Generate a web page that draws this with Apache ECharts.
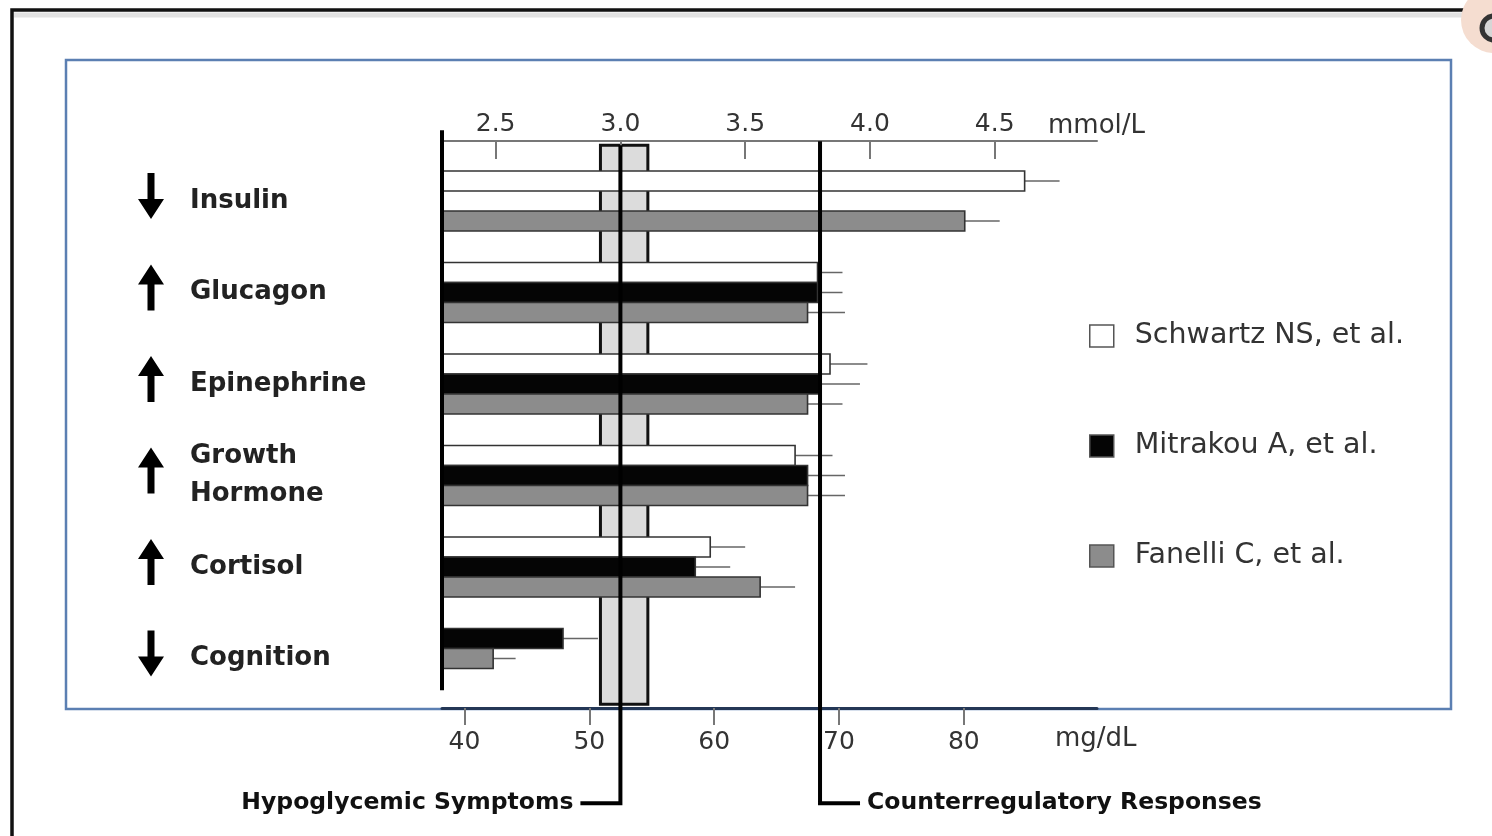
<!DOCTYPE html>
<html>
<head>
<meta charset="utf-8">
<script src="https://cdn.jsdelivr.net/npm/echarts@6/dist/echarts.min.js"></script>
<style>
html, body { margin: 0; padding: 0; background: #fff; }
#chart { width: 1492px; height: 836px; }
</style>
</head>
<body>
<div id="chart"></div>
<script>
// glucose level (mmol/L) at which each response starts, mean + SE
var categories = ['Insulin', 'Glucagon', 'Epinephrine', 'Growth\nHormone', 'Cortisol', 'Cognition'];
var directions = ['down', 'up', 'up', 'up', 'up', 'down'];
var studies = ['Schwartz NS, et al.', 'Mitrakou A, et al.', 'Fanelli C, et al.'];
var schwartz = [4.62, 3.79, 3.84, 3.70, 3.36, null];
var schwartzErr = [0.14, 0.10, 0.15, 0.15, 0.14, null];
var mitrakou = [null, 3.79, 3.80, 3.75, 3.30, 2.77];
var mitrakouErr = [null, 0.10, 0.16, 0.15, 0.14, 0.14];
var fanelli = [4.38, 3.75, 3.75, 3.75, 3.56, 2.49];
var fanelliErr = [0.14, 0.15, 0.14, 0.15, 0.14, 0.09];
var mmolTicks = [2.5, 3.0, 3.5, 4.0, 4.5];
var mgdlTicks = [40, 50, 60, 70, 80];
var symptomBand = [2.92, 3.11];
var thresholds = [3.0, 3.8];
var thresholdNames = ['Hypoglycemic Symptoms', 'Counterregulatory Responses'];

var FONT = '"DejaVu Sans", sans-serif';
var X_MIN = 2.285, X_MAX = 4.91;
var BAR = 20;
var values = [schwartz, mitrakou, fanelli];
var errors = [schwartzErr, mitrakouErr, fanelliErr];
var fills = ['#ffffff', '#050505', '#8c8c8c'];

var chart = echarts.init(document.getElementById('chart'));

// bars move up when the first studies have no value for that row
function leadingEmpty(i) {
    var n = 0;
    while (n < values.length && values[n][i] == null) n++;
    return n;
}

function barSeries(s) {
    var data = [];
    values[s].forEach(function (v, i) {
        if (v != null) data.push([i, v, errors[s][i]]);
    });
    return {
        name: studies[s],
        type: 'custom',
        z: 3,
        encode: { y: 0, x: [1] },
        itemStyle: { color: fills[s], borderColor: '#444' },
        data: data,
        renderItem: function (params, api) {
            var i = api.value(0), v = api.value(1), e = api.value(2);
            var slot = s - leadingEmpty(i);
            var base = api.coord([X_MIN, i]);
            var end = api.coord([v, i]);
            var tip = api.coord([v + e, i]);
            var cy = base[1] + (slot - 1) * BAR;
            return {
                type: 'group',
                children: [
                    { type: 'line', shape: { x1: end[0], y1: cy, x2: tip[0], y2: cy },
                      style: { stroke: '#666', lineWidth: 1.5 } },
                    { type: 'rect', shape: { x: base[0], y: cy - BAR / 2, width: end[0] - base[0], height: BAR },
                      style: { fill: fills[s], stroke: '#333', lineWidth: 1.6 } }
                ]
            };
        }
    };
}

var option = {
    animation: false,
    grid: { left: 442, right: 395, top: 155.25, bottom: 131.75 },
    legend: {
        orient: 'vertical',
        left: 1084,
        top: 316,
        icon: 'rect',
        itemWidth: 24,
        itemHeight: 22,
        itemGap: 80,
        selectedMode: false,
        textStyle: { fontFamily: FONT, fontSize: 28.5, color: '#333', lineHeight: 30, padding: [0, 0, 0, 16] },
        data: studies.map(function (n, s) {
            return { name: n, itemStyle: { color: fills[s], borderColor: '#555', borderWidth: 1.5 } };
        })
    },
    xAxis: [
        {
            type: 'value', position: 'top', offset: 14.25, min: X_MIN, max: X_MAX, z: 4,
            name: 'mmol/L', nameLocation: 'end', nameGap: -49,
            nameTextStyle: { fontFamily: FONT, fontSize: 26, color: '#333', verticalAlign: 'bottom', align: 'left', padding: [0, 0, 2, 0] },
            axisLine: { show: true, lineStyle: { color: '#777', width: 2 } },
            axisTick: { show: true, customValues: mmolTicks, inside: true, length: 18, lineStyle: { color: '#777', width: 2 } },
            axisLabel: { customValues: mmolTicks, margin: 4, fontFamily: FONT, fontSize: 25, color: '#333',
                formatter: function (v) { return v.toFixed(1); } },
            splitLine: { show: false }
        },
        {
            type: 'value', position: 'bottom', offset: 3.75, min: 38.2, max: 90.67, z: 4,
            name: 'mg/dL', nameLocation: 'end', nameGap: -42,
            nameTextStyle: { fontFamily: FONT, fontSize: 26, color: '#333', verticalAlign: 'top', align: 'left', padding: [18, 0, 0, 0] },
            axisLine: { show: true, lineStyle: { color: '#243756', width: 3 } },
            axisTick: { show: true, customValues: mgdlTicks, length: 17, lineStyle: { color: '#777', width: 2 } },
            axisLabel: { customValues: mgdlTicks, margin: 22, fontFamily: FONT, fontSize: 25, color: '#333' },
            splitLine: { show: false }
        }
    ],
    yAxis: {
        type: 'category',
        inverse: true,
        data: categories,
        axisLine: { show: false },
        axisTick: { show: false },
        axisLabel: { align: 'left', margin: 252, fontFamily: FONT, fontWeight: 'bold', fontSize: 26, color: '#222', lineHeight: 38 }
    },
    series: [
        {
            type: 'custom', z: 1, silent: true,
            data: [[symptomBand[0], symptomBand[1], 0]],
            encode: { x: [0, 1], y: 2 },
            renderItem: function (params, api) {
                var a = api.coord([api.value(0), 0])[0];
                var b = api.coord([api.value(1), 0])[0];
                var cs = params.coordSys;
                return { type: 'rect', shape: { x: a, y: cs.y - 10, width: b - a, height: cs.height + 10 },
                         style: { fill: '#dcdcdc', stroke: '#111', lineWidth: 3 } };
            }
        },
        barSeries(0),
        barSeries(1),
        barSeries(2),
        {
            type: 'custom', z: 5, silent: true,
            data: thresholds.map(function (t, k) { return [t, 0, k]; }),
            encode: { x: 0, y: 1 },
            renderItem: function (params, api) {
                var k = api.value(2);
                var x = api.coord([api.value(0), 0])[0];
                var cs = params.coordSys;
                var top = cs.y - (k === 0 ? 10 : 14), foot = cs.y + cs.height + 99;
                var dir = k === 0 ? -1 : 1;
                return {
                    type: 'group',
                    children: [
                        { type: 'polyline', shape: { points: [[x, top], [x, foot], [x + dir * 40, foot]] },
                          style: { stroke: '#000', lineWidth: 4, fill: 'none' } },
                        { type: 'text', style: { x: x + dir * 47, y: foot, text: thresholdNames[k],
                          align: dir < 0 ? 'right' : 'left', verticalAlign: 'middle',
                          font: 'bold 23.5px ' + FONT, fill: '#111' } }
                    ]
                };
            }
        },
        {
            type: 'custom', z: 6, silent: true,
            data: [[X_MIN, 0]],
            encode: { x: 0, y: 1 },
            renderItem: function (params, api) {
                var cs = params.coordSys;
                var x = api.coord([api.value(0), 0])[0];
                return { type: 'line', shape: { x1: x, y1: cs.y - 25, x2: x, y2: cs.y + cs.height - 14 },
                         style: { stroke: '#000', lineWidth: 4 } };
            }
        }
    ]
};

chart.setOption(option);

var frame = [
    { type: 'rect', z: 0, shape: { x: 66, y: 60, width: 1385, height: 649 },
      style: { fill: 'none', stroke: '#5b7fb2', lineWidth: 2.5 } },
    { type: 'line', z: 0, shape: { x1: 14, y1: 15, x2: 1492, y2: 15 }, style: { stroke: '#e2e2e2', lineWidth: 5 } },
    { type: 'polyline', z: 0, shape: { points: [[12, 836], [12, 10], [1492, 10]] },
      style: { stroke: '#111', lineWidth: 3.5, fill: 'none' } },
    { type: 'circle', z: 1, shape: { cx: 1494, cy: 20, r: 33 }, style: { fill: '#f5ddd0' } },
    { type: 'circle', z: 1, shape: { cx: 1494, cy: 28, r: 12 }, style: { fill: '#d6d6d6', stroke: '#333', lineWidth: 5 } }
];

var arrowUp = [[0, -23], [13, -3], [3.5, -3], [3.5, 23], [-3.5, 23], [-3.5, -3], [-13, -3]];
var arrows = categories.map(function (c, i) {
    var cy = chart.convertToPixel({ yAxisIndex: 0 }, i) - 5;
    var d = directions[i] === 'up' ? 1 : -1;
    return {
        type: 'polygon', z: 10,
        shape: { points: arrowUp.map(function (p) { return [151 + p[0], cy + p[1] * d]; }) },
        style: { fill: '#000' }
    };
});

chart.setOption({ graphic: { elements: frame.concat(arrows) } });
</script>
</body>
</html>
